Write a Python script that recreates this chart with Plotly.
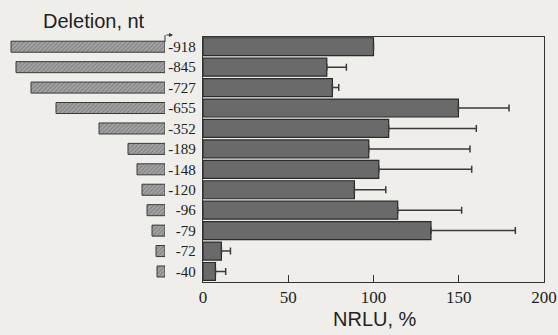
import plotly.graph_objects as go

# Data
constructs = ["-918", "-845", "-727", "-655", "-352", "-189", "-148", "-120", "-96", "-79", "-72", "-40"]
nrlu = [100, 72.6, 75.9, 149.8, 108.9, 97.2, 103.1, 88.8, 114.2, 133.7, 10.8, 7.3]
nrlu_err = [0, 11.5, 3.7, 29.7, 51.4, 59.4, 54.5, 18.4, 37.5, 49.5, 5.3, 6.0]
# schematic length of each deletion construct (drawn lengths, arbitrary units)
schematic_len = [154, 149, 134, 109, 66, 37, 28, 23, 18, 13, 9, 8]
x_ticks = [0, 50, 100, 150, 200]

W, H = 558, 335
BG = "#efeeea"

fig = go.Figure()

fig.add_trace(go.Bar(
    y=constructs, x=nrlu, orientation="h",
    marker=dict(color="#6a6a6a", line=dict(color="#2a2a2a", width=1.2)),
    width=0.88,
    error_x=dict(type="data", array=nrlu_err, symmetric=False,
                 arrayminus=[0] * len(nrlu_err),
                 color="#3a3a3a", thickness=1.5, width=3.5),
    xaxis="x", yaxis="y", showlegend=False, hoverinfo="skip",
))

fig.add_trace(go.Bar(
    y=constructs, x=schematic_len, orientation="h",
    marker=dict(color="#a0a0a0",
                line=dict(color="#3a3a3a", width=1),
                pattern=dict(shape="/", fgcolor="#4a4a4a", bgcolor="#a4a4a4",
                             size=3, solidity=0.3)),
    width=0.54,
    xaxis="x2", yaxis="y", showlegend=False, hoverinfo="skip",
))

x0, x1 = 203 / W, 544 / W
ytop, ybot = 1 - 36.5 / H, 1 - 281.7 / H

fig.update_layout(
    width=W, height=H,
    margin=dict(l=0, r=0, t=0, b=0),
    paper_bgcolor=BG, plot_bgcolor=BG,
    barmode="overlay",
    xaxis=dict(domain=[x0, x1], range=[0, 200], tickvals=x_ticks,
               ticks="inside", ticklen=7, tickcolor="#333", tickwidth=1.2,
               showline=True, linecolor="#333", linewidth=1.3, mirror=True,
               showgrid=False, zeroline=False, automargin=False,
               tickfont=dict(family="Liberation Serif", size=17, color="#222"),
               anchor="y"),
    xaxis2=dict(domain=[0, 165 / W], range=[165, 0], visible=False,
                anchor="y", automargin=False),
    yaxis=dict(domain=[ybot, ytop], type="category",
               categoryarray=constructs, autorange="reversed",
               showline=True, linecolor="#333", linewidth=1.3, mirror=True,
               ticks="", showgrid=False, zeroline=False, automargin=False,
               ticklabelstandoff=3,
               tickfont=dict(family="Liberation Serif", size=15, color="#222")),
    bargap=0.12,
)

fig.add_annotation(text="Deletion, nt", xref="paper", yref="paper",
                   x=94 / W, y=1 - 21 / H, xanchor="center", yanchor="middle",
                   showarrow=False,
                   font=dict(family="Liberation Sans", size=20, color="#222"))
fig.add_annotation(text="NRLU, %", xref="paper", yref="paper",
                   x=375 / W, y=1 - 319 / H, xanchor="center", yanchor="middle",
                   showarrow=False,
                   font=dict(family="Liberation Sans", size=20, color="#222"))

# small transcription-start arrow
fig.add_shape(type="line", xref="paper", yref="paper",
              x0=165 / W, x1=165 / W, y0=1 - 42 / H, y1=1 - 35 / H,
              line=dict(color="#333", width=1))
fig.add_annotation(xref="paper", yref="paper", axref="pixel", ayref="pixel",
                   x=173 / W, y=1 - 35 / H, ax=-8, ay=0, text="",
                   showarrow=True, arrowhead=2, arrowsize=0.8, arrowwidth=1,
                   arrowcolor="#333")

fig.write_html("out.html", config={"displayModeBar": False},
               post_script="document.body.style.margin='0px';document.body.style.overflow='hidden';")
